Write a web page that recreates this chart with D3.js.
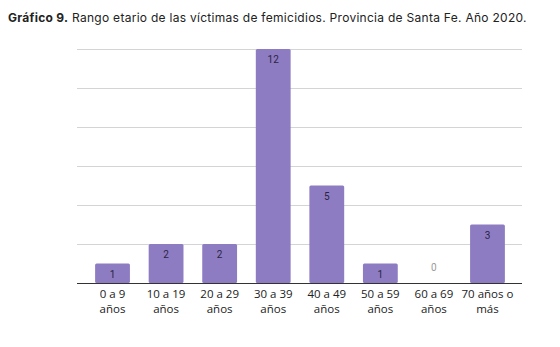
<!DOCTYPE html>
<html>
<head>
<meta charset="utf-8">
<script src="https://cdn.jsdelivr.net/npm/d3@7"></script>
<style>
  body { margin: 0; background: #fff; }
  svg { display: block; }
</style>
</head>
<body>
<svg id="chart"></svg>
<script>
// Age ranges and victim counts
var categories = [
  ["0 a 9", "años"],
  ["10 a 19", "años"],
  ["20 a 29", "años"],
  ["30 a 39", "años"],
  ["40 a 49", "años"],
  ["50 a 59", "años"],
  ["60 a 69", "años"],
  ["70 años o", "más"]
];
var values = [1, 2, 2, 12, 5, 1, 0, 3];
var yTicks = [0, 2, 4, 6, 8, 10, 12];

var width = 560, height = 347;

var svg = d3.select("#chart")
    .attr("width", width)
    .attr("height", height);

// Title
var title = svg.append("text")
    .attr("x", 8)
    .attr("y", 22)
    .style("font-family", "Inter, 'Open Sans', sans-serif")
    .style("font-size", "12px")
    .style("letter-spacing", "0.28px")
    .style("fill", "#222");
title.append("tspan").style("font-weight", "700").text("Gráfico 9.");
title.append("tspan").text(" Rango etario de las víctimas de femicidios. Provincia de Santa Fe. Año 2020.");

// Scales
var keys = categories.map((d, i) => i);
var x = d3.scaleBand()
    .domain(keys)
    .range([86, 514])
    .paddingInner(0.35)
    .paddingOuter(0.17);

var y = d3.scaleLinear()
    .domain([0, 12])
    .range([283, 49]);

// Grid lines
svg.append("g")
  .selectAll("line")
  .data(yTicks.slice(1))
  .enter().append("line")
    .attr("x1", 77)
    .attr("x2", 522)
    .attr("y1", d => y(d) + 0.5)
    .attr("y2", d => y(d) + 0.5)
    .attr("stroke", "#d4d4d4")
    .attr("stroke-width", 1);

// Bars
svg.append("g")
  .selectAll("rect")
  .data(values)
  .enter().append("rect")
    .attr("x", (d, i) => x(i))
    .attr("y", d => y(d))
    .attr("width", x.bandwidth())
    .attr("height", d => y(0) - y(d))
    .attr("rx", 1.5)
    .attr("fill", "#8e7cc3");

// Value labels
svg.append("g")
  .selectAll("text")
  .data(values)
  .enter().append("text")
    .attr("x", (d, i) => x(i) + x.bandwidth() / 2)
    .attr("y", d => d > 0 ? y(d) + 14 : y(0) - 12)
    .attr("text-anchor", "middle")
    .style("font-family", "Roboto, sans-serif")
    .style("font-size", "10px")
    .style("fill", d => d > 0 ? "#2a2440" : "#9a9a9a")
    .text(d => d);

// Baseline
svg.append("line")
    .attr("x1", 77)
    .attr("x2", 522)
    .attr("y1", y(0) + 0.5)
    .attr("y2", y(0) + 0.5)
    .attr("stroke", "#333")
    .attr("stroke-width", 1);

// Category labels
var labels = svg.append("g")
  .selectAll("text")
  .data(categories)
  .enter().append("text")
    .attr("x", (d, i) => x(i) + x.bandwidth() / 2)
    .attr("y", 298)
    .attr("text-anchor", "middle")
    .style("font-family", "'Open Sans', sans-serif")
    .style("font-size", "11.5px")
    .style("fill", "#222");

labels.append("tspan")
    .attr("x", function() { return d3.select(this.parentNode).attr("x"); })
    .text(d => d[0]);
labels.append("tspan")
    .attr("x", function() { return d3.select(this.parentNode).attr("x"); })
    .attr("dy", 15)
    .text(d => d[1]);
</script>
</body>
</html>
